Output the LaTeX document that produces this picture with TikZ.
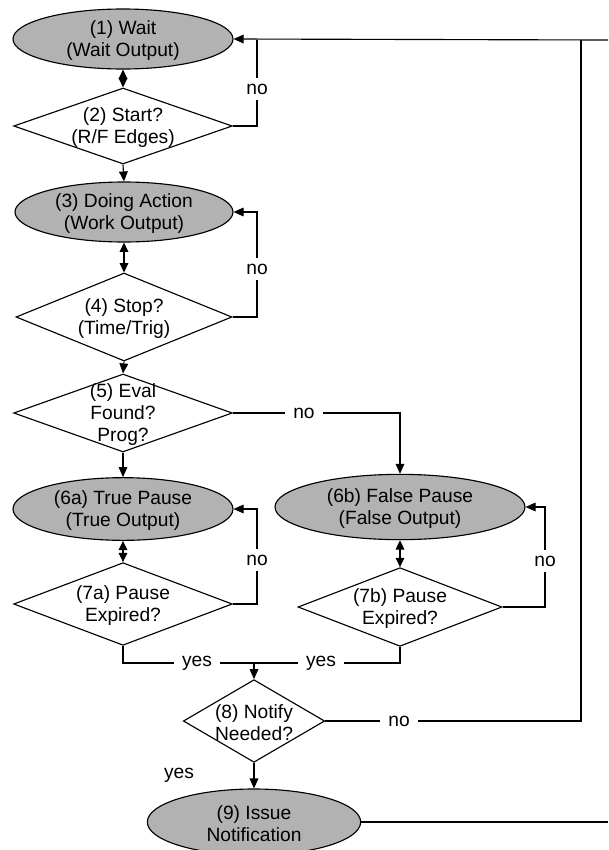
\documentclass[tikz,border=0pt]{standalone}
\usepackage{fontspec}
\setmainfont{Liberation Sans}
\usetikzlibrary{shapes.geometric,arrows.meta}
\definecolor{shade}{RGB}{178,178,178}
\begin{document}
\begin{tikzpicture}[x=0.75pt,y=-0.75pt,
  font=\fontsize{14.4}{16.5}\selectfont, line width=0.85pt,
  state/.style={ellipse, draw, fill=shade, inner sep=0pt},
  decision/.style={diamond, draw, fill=white, inner sep=0pt},
  intext/.style={align=center, inner sep=0pt, yshift=-1.5pt},
  lbl/.style={fill=white, inner xsep=6pt, inner ysep=4pt},
  arr/.style={-{Triangle[length=7.5pt,width=6.5pt]}},
  dbl/.style={{Triangle[length=7pt,width=6.5pt]}-{Triangle[length=7pt,width=6.5pt]}}]
\useasboundingbox (0,0) rectangle (608,850);

% states
\node[state, minimum width=165pt, minimum height=45pt,
  label={[intext]center:{(1) Wait\\(Wait Output)}}] (e1) at (123,39) {};
\node[state, minimum width=163.5pt, minimum height=45pt,
  label={[intext]center:{(3) Doing Action\\(Work Output)}}] (e3) at (124,212) {};
\node[state, minimum width=165pt, minimum height=47pt,
  label={[intext]center:{(6a) True Pause\\(True Output)}}] (e6a) at (123,509) {};
\node[state, minimum width=187.5pt, minimum height=49pt,
  label={[intext]center:{(6b) False Pause\\(False Output)}}] (e6b) at (400,507) {};
\node[state, minimum width=160pt, minimum height=49.5pt,
  label={[intext]center:{(9) Issue\\Notification}}] (e9) at (254,822) {};

% decisions
\node[decision, minimum width=164pt, minimum height=57pt,
  label={[intext]center:{(2) Start?\\(R/F Edges)}}] (d2) at (123,126) {};
\node[decision, minimum width=162pt, minimum height=66pt,
  label={[intext]center:{(4) Stop?\\(Time/Trig)}}] (d4) at (124,317) {};
\node[decision, minimum width=164pt, minimum height=58.5pt,
  label={[intext]center:{(5) Eval\\Found?\\Prog?}}] (d5) at (123,413) {};
\node[decision, minimum width=164pt, minimum height=62pt,
  label={[intext]center:{(7a) Pause\\Expired?}}] (d7a) at (123,604) {};
\node[decision, minimum width=153pt, minimum height=59pt,
  label={[intext]center:{(7b) Pause\\Expired?}}] (d7b) at (400,607) {};
\node[decision, minimum width=106pt, minimum height=62pt,
  label={[intext]center:{(8) Notify\\Needed?}}] (d8) at (254,721) {};

% free ends and junctions
\coordinate (topright) at (608,40);
\coordinate (j1) at (257,40);
\coordinate (j2) at (581,40);
\coordinate (m) at (254,663);
\coordinate (botright) at (608,822);

% main flow
\draw[dbl] (e1.south) -- (d2.north);
\draw[arr] (d2.south) -- (e3.north);
\draw[dbl] (e3.south) -- (d4.north);
\draw[arr] (d4.south) -- (d5.north);
\draw[arr] (d5.south) -- (e6a.north);
\draw[dbl] (e6a.south) -- (d7a.north);
\draw[dbl] (e6b.south) -- (d7b.north);

% loops
\draw[arr] (topright) -- (e1.east);
\draw (d2.east) -| (257,89) node[lbl] {no} -- (j1);
\draw[arr] (d4.east) -| (257,269) node[lbl] {no} |- (e3.east);
\draw[arr] (d7a.east) -| (257,560) node[lbl] {no} |- (e6a.east);
\draw[arr] (d7b.east) -| (545,561) node[lbl] {no} |- (e6b.east);
\draw[arr] (d5.east) -- (304,413) node[lbl] {no} -| (e6b.north);

% merge to 8
\draw (d7a.south) |- (197,663) node[lbl] {yes} -- (m);
\draw (d7b.south) |- (321,663) node[lbl] {yes} -- (m);
\draw[arr] (m) -- (d8.north);

% 8 outcomes
\draw (d8.east) -- (399,721) node[lbl] {no} -| (j2);
\draw[arr] (d8.south) -- (e9.north);
\node (yes9) at (179,775) {yes};
\draw (e9.east) -- (botright);
\end{tikzpicture}
\end{document}
